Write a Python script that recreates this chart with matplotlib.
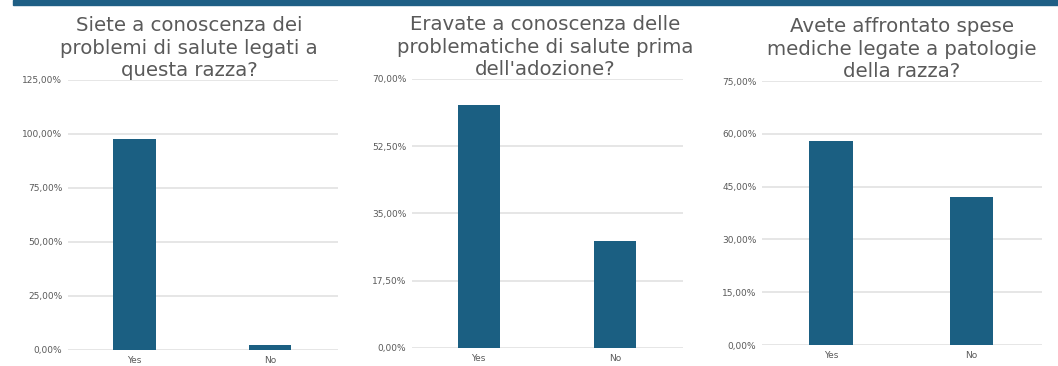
import numpy as np
import matplotlib.pyplot as plt
from matplotlib.ticker import FuncFormatter

categories = ['Yes', 'No']
titles = ['Siete a conoscenza dei\nproblemi di salute legati a\nquesta razza?',
          'Eravate a conoscenza delle\nproblematiche di salute prima\ndell\'adozione?',
          'Avete affrontato spese\nmediche legate a patologie\ndella razza?']
values_1 = [97.5, 2.5]
values_2 = [63.2, 27.8]
values_3 = [58.0, 42.0]
yticks_1 = [0, 25, 50, 75, 100, 125]
yticks_2 = [0, 17.5, 35, 52.5, 70]
yticks_3 = [0, 15, 30, 45, 60, 75]

bar_color = '#1b5f82'
grid_color = '#e2e2e2'
text_color = '#5a5a5a'

fig = plt.figure(figsize=(10.58, 3.66), dpi=100)
# axes rectangles in pixel coords: left, bottom(0%), right, top(max)
boxes = [(68, 350, 338, 80), (412, 348, 683, 79), (762, 345, 1042, 81)]
title_x = [0.448, 0.49, 0.50]
W, H = 1058, 366


def fmt(v, pos):
    return ('%.2f%%' % v).replace('.', ',')


for box, title, tx, vals, ticks in zip(boxes, titles, title_x,
                                       [values_1, values_2, values_3],
                                       [yticks_1, yticks_2, yticks_3]):
    l, b, r, t = box
    ax = fig.add_axes([l / W, (H - b) / H, (r - l) / W, (b - t) / H])
    x = np.arange(len(categories))
    ax.bar(x, vals, width=0.31, color=bar_color, zorder=3)
    ax.set_xlim(-0.49, 1.5)
    ax.set_ylim(0, ticks[-1])
    ax.set_yticks(ticks)
    ax.yaxis.set_major_formatter(FuncFormatter(fmt))
    ax.set_xticks(x)
    ax.set_xticklabels(categories)
    ax.grid(axis='y', color=grid_color, linewidth=1.2, zorder=0)
    for s in ax.spines.values():
        s.set_visible(False)
    ax.tick_params(length=0, labelsize=6.5, colors=text_color, pad=4)
    ax.tick_params(axis='y', pad=4)
    ax.set_title(title, fontsize=14.2, color=text_color, linespacing=1.22,
                 pad=-2, x=tx)

# dark band at top of the slide
fig.patches.append(plt.Rectangle((13 / W, 1 - 5 / H), 1 - 13 / W, 5 / H,
                                 transform=fig.transFigure, color='#1f5f85',
                                 zorder=0))

fig.savefig('out.png', dpi=100)
